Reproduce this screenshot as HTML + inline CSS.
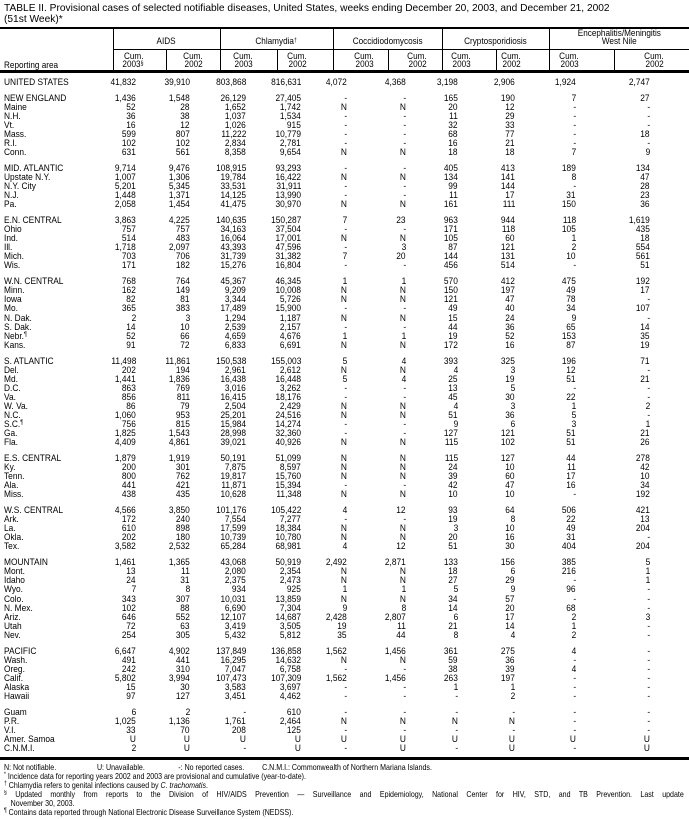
<!DOCTYPE html>
<html><head><meta charset="utf-8"><style>
*{margin:0;padding:0;box-sizing:border-box}
body{width:689px;height:819px;background:#fff;position:relative;overflow:hidden;font-family:"Liberation Sans",Arial,sans-serif;color:#000}
.t{position:absolute;left:4px;font-size:10.5px;line-height:11px;white-space:nowrap;transform-origin:left;transform:scaleX(.97)}
.ln{position:absolute;background:#000}
.h{position:absolute;font-size:9.5px;line-height:8px;white-space:nowrap;text-align:center}
.h span{display:inline-block;transform:scaleX(.86)}
.hc{position:absolute;font-size:9.5px;line-height:7.8px;text-align:right;white-space:nowrap;transform-origin:right;transform:scaleX(.86)}
#b{position:absolute;left:0;top:78px;width:689px}
.r{position:relative;height:9.1px;font-size:9.5px;line-height:9.1px}
.g{margin-top:6.6px}
.r span{position:absolute;top:0;white-space:nowrap;transform-origin:right;transform:scaleX(.88)}
.r span:nth-child(1){left:4px;transform-origin:left}
.r span:nth-child(2){right:553px}.r span:nth-child(3){right:499px}
.r span:nth-child(4){right:443px}.r span:nth-child(5){right:388px}
.r span:nth-child(6){right:342px}.r span:nth-child(7){right:283px}
.r span:nth-child(8){right:231px}.r span:nth-child(9){right:174px}
.r span:nth-child(10){right:113px}.r span:nth-child(11){right:39px}
#f{position:absolute;left:4px;top:763px;width:819px;font-size:8.5px;line-height:9.1px;transform-origin:left top;transform:scaleX(.83)}
#f div{white-space:nowrap;position:relative}
sup{font-size:6px;vertical-align:top;line-height:6px}
</style></head><body>
<div class="t" style="top:3px">TABLE II. Provisional cases of selected notifiable diseases, United States, weeks ending December 20, 2003, and December 21, 2002</div>
<div class="t" style="top:14px">(51st Week)*</div>

<div class="ln" style="left:0;top:27px;width:689px;height:1.5px"></div>
<div class="ln" style="left:113px;top:49px;width:576px;height:1px"></div>
<div class="ln" style="left:0;top:70px;width:689px;height:3px"></div>
<div class="ln" style="left:113px;top:28px;width:1px;height:42px"></div>
<div class="ln" style="left:220px;top:28px;width:1px;height:42px"></div>
<div class="ln" style="left:333px;top:28px;width:1px;height:42px"></div>
<div class="ln" style="left:442px;top:28px;width:1px;height:42px"></div>
<div class="ln" style="left:549px;top:28px;width:1px;height:42px"></div>
<div class="ln" style="left:166px;top:49px;width:1px;height:21px"></div>
<div class="ln" style="left:277px;top:49px;width:1px;height:21px"></div>
<div class="ln" style="left:388px;top:49px;width:1px;height:21px"></div>
<div class="ln" style="left:496px;top:49px;width:1px;height:21px"></div>
<div class="ln" style="left:614px;top:49px;width:1px;height:21px"></div>

<div class="h" style="left:113px;width:107px;top:38px"><span>AIDS</span></div>
<div class="h" style="left:220px;width:113px;top:38px"><span>Chlamydia<sup>†</sup></span></div>
<div class="h" style="left:333px;width:109px;top:38px"><span>Coccidiodomycosis</span></div>
<div class="h" style="left:442px;width:107px;top:38px"><span>Cryptosporidiosis</span></div>
<div class="h" style="left:549px;width:140px;top:30px"><span>Encephalitis/Meningitis</span></div>
<div class="h" style="left:549px;width:140px;top:38px"><span>West Nile</span></div>
<div class="hc" style="left:4px;top:62px;transform-origin:left">Reporting area</div>

<div class="hc" style="right:546px;top:53px">Cum.<br>2003<sup>§</sup></div>
<div class="hc" style="right:486px;top:53px">Cum.<br>2002</div>
<div class="hc" style="right:436px;top:53px">Cum.<br>2003</div>
<div class="hc" style="right:382px;top:53px">Cum.<br>2002</div>
<div class="hc" style="right:315px;top:53px">Cum.<br>2003</div>
<div class="hc" style="right:262px;top:53px">Cum.<br>2002</div>
<div class="hc" style="right:218px;top:53px">Cum.<br>2003</div>
<div class="hc" style="right:168px;top:53px">Cum.<br>2002</div>
<div class="hc" style="right:110px;top:53px">Cum.<br>2003</div>
<div class="hc" style="right:25px;top:53px">Cum.<br>2002</div>

<div id="b">
<div class="r"><span>UNITED STATES</span><span>41,832</span><span>39,910</span><span>803,868</span><span>816,631</span><span>4,072</span><span>4,368</span><span>3,198</span><span>2,906</span><span>1,924</span><span>2,747</span></div>
<div class="r g"><span>NEW ENGLAND</span><span>1,436</span><span>1,548</span><span>26,129</span><span>27,405</span><span>-</span><span>-</span><span>165</span><span>190</span><span>7</span><span>27</span></div>
<div class="r"><span>Maine</span><span>52</span><span>28</span><span>1,652</span><span>1,742</span><span>N</span><span>N</span><span>20</span><span>12</span><span>-</span><span>-</span></div>
<div class="r"><span>N.H.</span><span>36</span><span>38</span><span>1,037</span><span>1,534</span><span>-</span><span>-</span><span>11</span><span>29</span><span>-</span><span>-</span></div>
<div class="r"><span>Vt.</span><span>16</span><span>12</span><span>1,026</span><span>915</span><span>-</span><span>-</span><span>32</span><span>33</span><span>-</span><span>-</span></div>
<div class="r"><span>Mass.</span><span>599</span><span>807</span><span>11,222</span><span>10,779</span><span>-</span><span>-</span><span>68</span><span>77</span><span>-</span><span>18</span></div>
<div class="r"><span>R.I.</span><span>102</span><span>102</span><span>2,834</span><span>2,781</span><span>-</span><span>-</span><span>16</span><span>21</span><span>-</span><span>-</span></div>
<div class="r"><span>Conn.</span><span>631</span><span>561</span><span>8,358</span><span>9,654</span><span>N</span><span>N</span><span>18</span><span>18</span><span>7</span><span>9</span></div>
<div class="r g"><span>MID. ATLANTIC</span><span>9,714</span><span>9,476</span><span>108,915</span><span>93,293</span><span>-</span><span>-</span><span>405</span><span>413</span><span>189</span><span>134</span></div>
<div class="r"><span>Upstate N.Y.</span><span>1,007</span><span>1,306</span><span>19,784</span><span>16,422</span><span>N</span><span>N</span><span>134</span><span>141</span><span>8</span><span>47</span></div>
<div class="r"><span>N.Y. City</span><span>5,201</span><span>5,345</span><span>33,531</span><span>31,911</span><span>-</span><span>-</span><span>99</span><span>144</span><span>-</span><span>28</span></div>
<div class="r"><span>N.J.</span><span>1,448</span><span>1,371</span><span>14,125</span><span>13,990</span><span>-</span><span>-</span><span>11</span><span>17</span><span>31</span><span>23</span></div>
<div class="r"><span>Pa.</span><span>2,058</span><span>1,454</span><span>41,475</span><span>30,970</span><span>N</span><span>N</span><span>161</span><span>111</span><span>150</span><span>36</span></div>
<div class="r g"><span>E.N. CENTRAL</span><span>3,863</span><span>4,225</span><span>140,635</span><span>150,287</span><span>7</span><span>23</span><span>963</span><span>944</span><span>118</span><span>1,619</span></div>
<div class="r"><span>Ohio</span><span>757</span><span>757</span><span>34,163</span><span>37,504</span><span>-</span><span>-</span><span>171</span><span>118</span><span>105</span><span>435</span></div>
<div class="r"><span>Ind.</span><span>514</span><span>483</span><span>16,064</span><span>17,001</span><span>N</span><span>N</span><span>105</span><span>60</span><span>1</span><span>18</span></div>
<div class="r"><span>Ill.</span><span>1,718</span><span>2,097</span><span>43,393</span><span>47,596</span><span>-</span><span>3</span><span>87</span><span>121</span><span>2</span><span>554</span></div>
<div class="r"><span>Mich.</span><span>703</span><span>706</span><span>31,739</span><span>31,382</span><span>7</span><span>20</span><span>144</span><span>131</span><span>10</span><span>561</span></div>
<div class="r"><span>Wis.</span><span>171</span><span>182</span><span>15,276</span><span>16,804</span><span>-</span><span>-</span><span>456</span><span>514</span><span>-</span><span>51</span></div>
<div class="r g"><span>W.N. CENTRAL</span><span>768</span><span>764</span><span>45,367</span><span>46,345</span><span>1</span><span>1</span><span>570</span><span>412</span><span>475</span><span>192</span></div>
<div class="r"><span>Minn.</span><span>162</span><span>149</span><span>9,209</span><span>10,008</span><span>N</span><span>N</span><span>150</span><span>197</span><span>49</span><span>17</span></div>
<div class="r"><span>Iowa</span><span>82</span><span>81</span><span>3,344</span><span>5,726</span><span>N</span><span>N</span><span>121</span><span>47</span><span>78</span><span>-</span></div>
<div class="r"><span>Mo.</span><span>365</span><span>383</span><span>17,489</span><span>15,900</span><span>-</span><span>-</span><span>49</span><span>40</span><span>34</span><span>107</span></div>
<div class="r"><span>N. Dak.</span><span>2</span><span>3</span><span>1,294</span><span>1,187</span><span>N</span><span>N</span><span>15</span><span>24</span><span>9</span><span>-</span></div>
<div class="r"><span>S. Dak.</span><span>14</span><span>10</span><span>2,539</span><span>2,157</span><span>-</span><span>-</span><span>44</span><span>36</span><span>65</span><span>14</span></div>
<div class="r"><span>Nebr.<sup>¶</sup></span><span>52</span><span>66</span><span>4,659</span><span>4,676</span><span>1</span><span>1</span><span>19</span><span>52</span><span>153</span><span>35</span></div>
<div class="r"><span>Kans.</span><span>91</span><span>72</span><span>6,833</span><span>6,691</span><span>N</span><span>N</span><span>172</span><span>16</span><span>87</span><span>19</span></div>
<div class="r g"><span>S. ATLANTIC</span><span>11,498</span><span>11,861</span><span>150,538</span><span>155,003</span><span>5</span><span>4</span><span>393</span><span>325</span><span>196</span><span>71</span></div>
<div class="r"><span>Del.</span><span>202</span><span>194</span><span>2,961</span><span>2,612</span><span>N</span><span>N</span><span>4</span><span>3</span><span>12</span><span>-</span></div>
<div class="r"><span>Md.</span><span>1,441</span><span>1,836</span><span>16,438</span><span>16,448</span><span>5</span><span>4</span><span>25</span><span>19</span><span>51</span><span>21</span></div>
<div class="r"><span>D.C.</span><span>863</span><span>769</span><span>3,016</span><span>3,262</span><span>-</span><span>-</span><span>13</span><span>5</span><span>-</span><span>-</span></div>
<div class="r"><span>Va.</span><span>856</span><span>811</span><span>16,415</span><span>18,176</span><span>-</span><span>-</span><span>45</span><span>30</span><span>22</span><span>-</span></div>
<div class="r"><span>W. Va.</span><span>86</span><span>79</span><span>2,504</span><span>2,429</span><span>N</span><span>N</span><span>4</span><span>3</span><span>1</span><span>2</span></div>
<div class="r"><span>N.C.</span><span>1,060</span><span>953</span><span>25,201</span><span>24,516</span><span>N</span><span>N</span><span>51</span><span>36</span><span>5</span><span>-</span></div>
<div class="r"><span>S.C.<sup>¶</sup></span><span>756</span><span>815</span><span>15,984</span><span>14,274</span><span>-</span><span>-</span><span>9</span><span>6</span><span>3</span><span>1</span></div>
<div class="r"><span>Ga.</span><span>1,825</span><span>1,543</span><span>28,998</span><span>32,360</span><span>-</span><span>-</span><span>127</span><span>121</span><span>51</span><span>21</span></div>
<div class="r"><span>Fla.</span><span>4,409</span><span>4,861</span><span>39,021</span><span>40,926</span><span>N</span><span>N</span><span>115</span><span>102</span><span>51</span><span>26</span></div>
<div class="r g"><span>E.S. CENTRAL</span><span>1,879</span><span>1,919</span><span>50,191</span><span>51,099</span><span>N</span><span>N</span><span>115</span><span>127</span><span>44</span><span>278</span></div>
<div class="r"><span>Ky.</span><span>200</span><span>301</span><span>7,875</span><span>8,597</span><span>N</span><span>N</span><span>24</span><span>10</span><span>11</span><span>42</span></div>
<div class="r"><span>Tenn.</span><span>800</span><span>762</span><span>19,817</span><span>15,760</span><span>N</span><span>N</span><span>39</span><span>60</span><span>17</span><span>10</span></div>
<div class="r"><span>Ala.</span><span>441</span><span>421</span><span>11,871</span><span>15,394</span><span>-</span><span>-</span><span>42</span><span>47</span><span>16</span><span>34</span></div>
<div class="r"><span>Miss.</span><span>438</span><span>435</span><span>10,628</span><span>11,348</span><span>N</span><span>N</span><span>10</span><span>10</span><span>-</span><span>192</span></div>
<div class="r g"><span>W.S. CENTRAL</span><span>4,566</span><span>3,850</span><span>101,176</span><span>105,422</span><span>4</span><span>12</span><span>93</span><span>64</span><span>506</span><span>421</span></div>
<div class="r"><span>Ark.</span><span>172</span><span>240</span><span>7,554</span><span>7,277</span><span>-</span><span>-</span><span>19</span><span>8</span><span>22</span><span>13</span></div>
<div class="r"><span>La.</span><span>610</span><span>898</span><span>17,599</span><span>18,384</span><span>N</span><span>N</span><span>3</span><span>10</span><span>49</span><span>204</span></div>
<div class="r"><span>Okla.</span><span>202</span><span>180</span><span>10,739</span><span>10,780</span><span>N</span><span>N</span><span>20</span><span>16</span><span>31</span><span>-</span></div>
<div class="r"><span>Tex.</span><span>3,582</span><span>2,532</span><span>65,284</span><span>68,981</span><span>4</span><span>12</span><span>51</span><span>30</span><span>404</span><span>204</span></div>
<div class="r g"><span>MOUNTAIN</span><span>1,461</span><span>1,365</span><span>43,068</span><span>50,919</span><span>2,492</span><span>2,871</span><span>133</span><span>156</span><span>385</span><span>5</span></div>
<div class="r"><span>Mont.</span><span>13</span><span>11</span><span>2,080</span><span>2,354</span><span>N</span><span>N</span><span>18</span><span>6</span><span>216</span><span>1</span></div>
<div class="r"><span>Idaho</span><span>24</span><span>31</span><span>2,375</span><span>2,473</span><span>N</span><span>N</span><span>27</span><span>29</span><span>-</span><span>1</span></div>
<div class="r"><span>Wyo.</span><span>7</span><span>8</span><span>934</span><span>925</span><span>1</span><span>1</span><span>5</span><span>9</span><span>96</span><span>-</span></div>
<div class="r"><span>Colo.</span><span>343</span><span>307</span><span>10,031</span><span>13,859</span><span>N</span><span>N</span><span>34</span><span>57</span><span>-</span><span>-</span></div>
<div class="r"><span>N. Mex.</span><span>102</span><span>88</span><span>6,690</span><span>7,304</span><span>9</span><span>8</span><span>14</span><span>20</span><span>68</span><span>-</span></div>
<div class="r"><span>Ariz.</span><span>646</span><span>552</span><span>12,107</span><span>14,687</span><span>2,428</span><span>2,807</span><span>6</span><span>17</span><span>2</span><span>3</span></div>
<div class="r"><span>Utah</span><span>72</span><span>63</span><span>3,419</span><span>3,505</span><span>19</span><span>11</span><span>21</span><span>14</span><span>1</span><span>-</span></div>
<div class="r"><span>Nev.</span><span>254</span><span>305</span><span>5,432</span><span>5,812</span><span>35</span><span>44</span><span>8</span><span>4</span><span>2</span><span>-</span></div>
<div class="r g"><span>PACIFIC</span><span>6,647</span><span>4,902</span><span>137,849</span><span>136,858</span><span>1,562</span><span>1,456</span><span>361</span><span>275</span><span>4</span><span>-</span></div>
<div class="r"><span>Wash.</span><span>491</span><span>441</span><span>16,295</span><span>14,632</span><span>N</span><span>N</span><span>59</span><span>36</span><span>-</span><span>-</span></div>
<div class="r"><span>Oreg.</span><span>242</span><span>310</span><span>7,047</span><span>6,758</span><span>-</span><span>-</span><span>38</span><span>39</span><span>4</span><span>-</span></div>
<div class="r"><span>Calif.</span><span>5,802</span><span>3,994</span><span>107,473</span><span>107,309</span><span>1,562</span><span>1,456</span><span>263</span><span>197</span><span>-</span><span>-</span></div>
<div class="r"><span>Alaska</span><span>15</span><span>30</span><span>3,583</span><span>3,697</span><span>-</span><span>-</span><span>1</span><span>1</span><span>-</span><span>-</span></div>
<div class="r"><span>Hawaii</span><span>97</span><span>127</span><span>3,451</span><span>4,462</span><span>-</span><span>-</span><span>-</span><span>2</span><span>-</span><span>-</span></div>
<div class="r g"><span>Guam</span><span>6</span><span>2</span><span>-</span><span>610</span><span>-</span><span>-</span><span>-</span><span>-</span><span>-</span><span>-</span></div>
<div class="r"><span>P.R.</span><span>1,025</span><span>1,136</span><span>1,761</span><span>2,464</span><span>N</span><span>N</span><span>N</span><span>N</span><span>-</span><span>-</span></div>
<div class="r"><span>V.I.</span><span>33</span><span>70</span><span>208</span><span>125</span><span>-</span><span>-</span><span>-</span><span>-</span><span>-</span><span>-</span></div>
<div class="r"><span>Amer. Samoa</span><span>U</span><span>U</span><span>U</span><span>U</span><span>U</span><span>U</span><span>U</span><span>U</span><span>U</span><span>U</span></div>
<div class="r"><span>C.N.M.I.</span><span>2</span><span>U</span><span>-</span><span>U</span><span>-</span><span>U</span><span>-</span><span>U</span><span>-</span><span>U</span></div>
</div>

<div class="ln" style="left:0;top:757px;width:689px;height:3px"></div>

<div id="f">
<div>N: Not notifiable.<span style="position:absolute;left:112px">U: Unavailable.</span><span style="position:absolute;left:210px">-: No reported cases.</span><span style="position:absolute;left:311px">C.N.M.I.: Commonwealth of Northern Mariana Islands.</span></div>
<div><sup>*</sup> Incidence data for reporting years 2002 and 2003 are provisional and cumulative (year-to-date).</div>
<div><sup>†</sup> Chlamydia refers to genital infections caused by <i>C. trachomatis</i>.</div>
<div style="width:819px;text-align:justify;text-align-last:justify;white-space:normal;height:9.1px;overflow:hidden"><sup>§</sup> Updated monthly from reports to the Division of HIV/AIDS Prevention — Surveillance and Epidemiology, National Center for HIV, STD, and TB Prevention. Last update</div>
<div style="padding-left:8px">November 30, 2003.</div>
<div><sup>¶</sup> Contains data reported through National Electronic Disease Surveillance System (NEDSS).</div>
</div>
</body></html>
